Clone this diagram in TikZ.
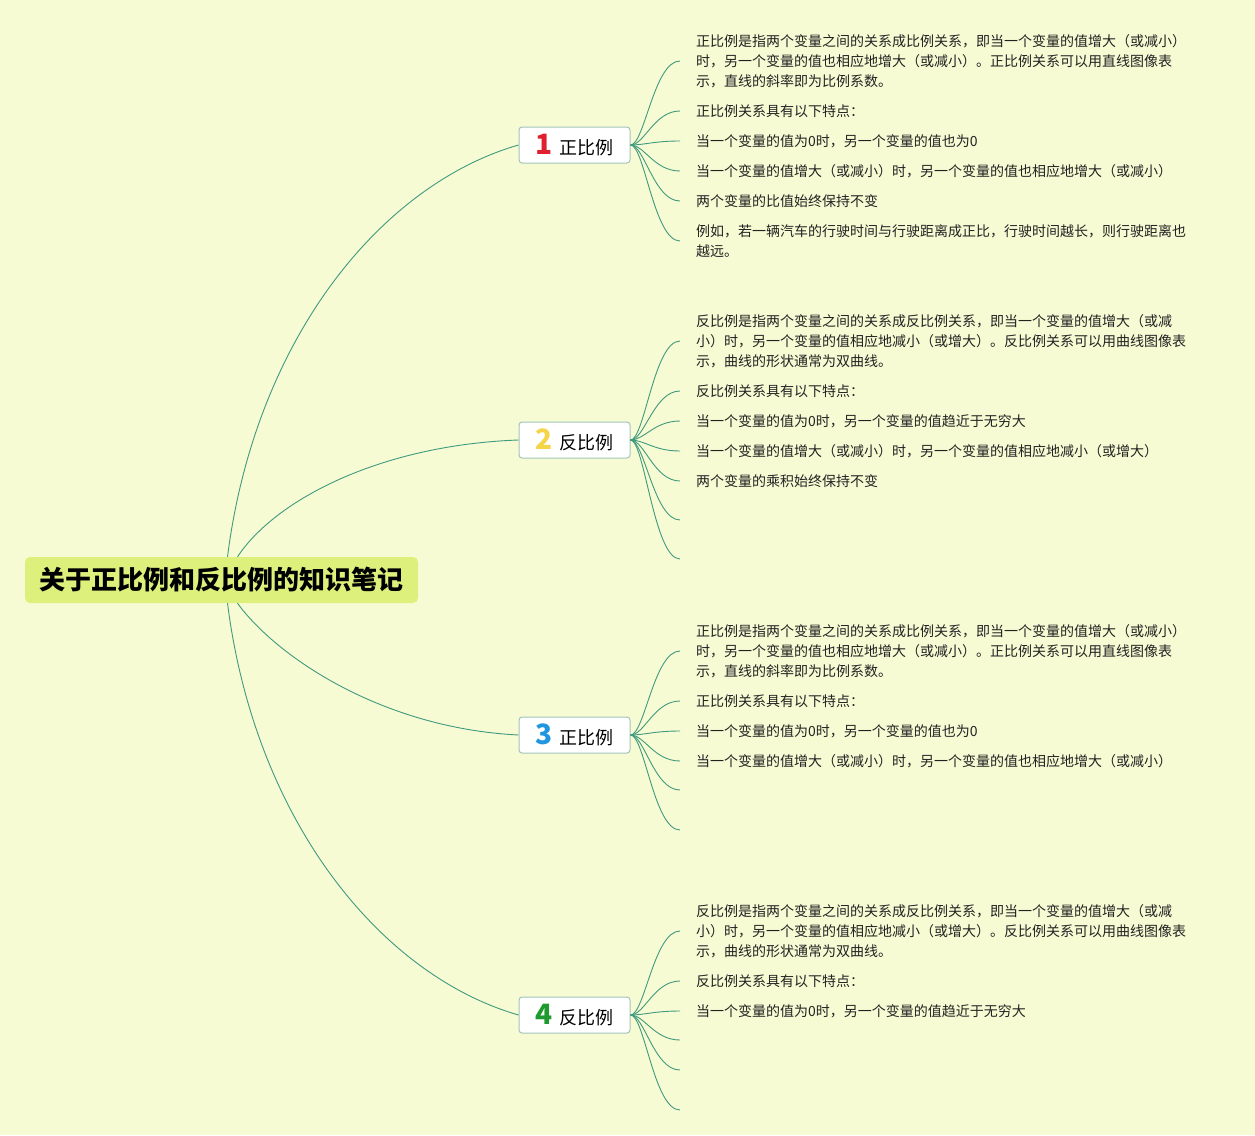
\documentclass[tikz,border=0pt]{standalone}
\usepackage{fontspec}
\setmainfont{Noto Sans CJK SC}
\definecolor{bgc}{HTML}{F7FBD3}
\definecolor{rootc}{HTML}{DDF07B}
\definecolor{boxc}{HTML}{A3C4BA}
\definecolor{linkc}{HTML}{3F9A7E}
\definecolor{leafc}{HTML}{222222}
\definecolor{numred}{HTML}{E0202E}
\definecolor{numyellow}{HTML}{F5D547}
\definecolor{numblue}{HTML}{2196E0}
\definecolor{numgreen}{HTML}{1E9A2E}
\begin{document}
\begin{tikzpicture}[x=1pt,y=-1pt,
	link/.style={draw=linkc,line width=0.9pt},
	rootbox/.style={fill=rootc,rounded corners=5pt,minimum width=393pt,minimum height=46pt,inner sep=0pt,font=\fontsize{26}{30}\selectfont\bfseries},
	topic/.style={draw=boxc,line width=1pt,fill=white,rounded corners=3pt,minimum width=111pt,minimum height=36pt,inner sep=0pt,font=\fontsize{18}{22}\selectfont},
	leaf/.style={anchor=west,inner xsep=16pt,inner ysep=0pt,align=left,font=\fontsize{14}{20}\selectfont,text=leafc}]
					\fill[bgc] (0,0) rectangle (1255,1135);
					\useasboundingbox (0,0) rectangle (1255,1135);
					\node[rootbox] (root) at (221.5,580) {关于正比例和反比例的知识笔记};
					\node[topic] (b1) at (574.5,145) {\textcolor{numred}{\fontsize{28}{28}\selectfont\bfseries 1}\hspace{6pt}正比例};
					\node[topic] (b2) at (574.5,440) {\textcolor{numyellow}{\fontsize{28}{28}\selectfont\bfseries 2}\hspace{6pt}反比例};
					\node[topic] (b3) at (574.5,735) {\textcolor{numblue}{\fontsize{28}{28}\selectfont\bfseries 3}\hspace{6pt}正比例};
					\node[topic] (b4) at (574.5,1015) {\textcolor{numgreen}{\fontsize{28}{28}\selectfont\bfseries 4}\hspace{6pt}反比例};
					\draw[link] ([xshift=6pt]root.north) .. controls (255,340) and (380,185) .. (b1.west);
					\draw[link] ([xshift=16pt]root.north) .. controls (275,500) and (380,445) .. (b2.west);
					\draw[link] ([xshift=16pt]root.south) .. controls (275,655) and (380,728) .. (b3.west);
					\draw[link] ([xshift=6pt]root.south) .. controls (255,820) and (380,975) .. (b4.west);
					\node[leaf] (b1l1) at (680,61) {正比例是指两个变量之间的关系成比例关系，即当一个变量的值增大（或减小）\\时，另一个变量的值也相应地增大（或减小）。正比例关系可以用直线图像表\\示，直线的斜率即为比例系数。};
					\node[leaf] (b1l2) at (680,111) {正比例关系具有以下特点：};
					\node[leaf] (b1l3) at (680,141) {当一个变量的值为0时，另一个变量的值也为0};
					\node[leaf] (b1l4) at (680,171) {当一个变量的值增大（或减小）时，另一个变量的值也相应地增大（或减小）};
					\node[leaf] (b1l5) at (680,201) {两个变量的比值始终保持不变};
					\node[leaf] (b1l6) at (680,241) {例如，若一辆汽车的行驶时间与行驶距离成正比，行驶时间越长，则行驶距离也\\越远。};
					\node[leaf] (b2l1) at (680,341) {反比例是指两个变量之间的关系成反比例关系，即当一个变量的值增大（或减\\小）时，另一个变量的值相应地减小（或增大）。反比例关系可以用曲线图像表\\示，曲线的形状通常为双曲线。};
					\node[leaf] (b2l2) at (680,391) {反比例关系具有以下特点：};
					\node[leaf] (b2l3) at (680,421) {当一个变量的值为0时，另一个变量的值趋近于无穷大};
					\node[leaf] (b2l4) at (680,451) {当一个变量的值增大（或减小）时，另一个变量的值相应地减小（或增大）};
					\node[leaf] (b2l5) at (680,481) {两个变量的乘积始终保持不变};
					\coordinate (b2l6) at (680,520);
					\coordinate (b2l7) at (680,559);
					\node[leaf] (b3l1) at (680,651) {正比例是指两个变量之间的关系成比例关系，即当一个变量的值增大（或减小）\\时，另一个变量的值也相应地增大（或减小）。正比例关系可以用直线图像表\\示，直线的斜率即为比例系数。};
					\node[leaf] (b3l2) at (680,701) {正比例关系具有以下特点：};
					\node[leaf] (b3l3) at (680,731) {当一个变量的值为0时，另一个变量的值也为0};
					\node[leaf] (b3l4) at (680,761) {当一个变量的值增大（或减小）时，另一个变量的值也相应地增大（或减小）};
					\coordinate (b3l5) at (680,790);
					\coordinate (b3l6) at (680,830);
					\node[leaf] (b4l1) at (680,931) {反比例是指两个变量之间的关系成反比例关系，即当一个变量的值增大（或减\\小）时，另一个变量的值相应地减小（或增大）。反比例关系可以用曲线图像表\\示，曲线的形状通常为双曲线。};
					\node[leaf] (b4l2) at (680,981) {反比例关系具有以下特点：};
					\node[leaf] (b4l3) at (680,1011) {当一个变量的值为0时，另一个变量的值趋近于无穷大};
					\coordinate (b4l4) at (680,1040);
					\coordinate (b4l5) at (680,1070);
					\coordinate (b4l6) at (680,1110);
					\draw[link] (b1.east) .. controls +(14,0) and +(-26,0) .. (b1l1.west);
					\draw[link] (b1.east) .. controls +(14,0) and +(-26,0) .. (b1l2.west);
					\draw[link] (b1.east) .. controls +(14,0) and +(-26,0) .. (b1l3.west);
					\draw[link] (b1.east) .. controls +(14,0) and +(-26,0) .. (b1l4.west);
					\draw[link] (b1.east) .. controls +(14,0) and +(-26,0) .. (b1l5.west);
					\draw[link] (b1.east) .. controls +(14,0) and +(-26,0) .. (b1l6.west);
					\draw[link] (b2.east) .. controls +(14,0) and +(-26,0) .. (b2l1.west);
					\draw[link] (b2.east) .. controls +(14,0) and +(-26,0) .. (b2l2.west);
					\draw[link] (b2.east) .. controls +(14,0) and +(-26,0) .. (b2l3.west);
					\draw[link] (b2.east) .. controls +(14,0) and +(-26,0) .. (b2l4.west);
					\draw[link] (b2.east) .. controls +(14,0) and +(-26,0) .. (b2l5.west);
					\draw[link] (b2.east) .. controls +(14,0) and +(-26,0) .. (b2l6);
					\draw[link] (b2.east) .. controls +(14,0) and +(-26,0) .. (b2l7);
					\draw[link] (b3.east) .. controls +(14,0) and +(-26,0) .. (b3l1.west);
					\draw[link] (b3.east) .. controls +(14,0) and +(-26,0) .. (b3l2.west);
					\draw[link] (b3.east) .. controls +(14,0) and +(-26,0) .. (b3l3.west);
					\draw[link] (b3.east) .. controls +(14,0) and +(-26,0) .. (b3l4.west);
					\draw[link] (b3.east) .. controls +(14,0) and +(-26,0) .. (b3l5);
					\draw[link] (b3.east) .. controls +(14,0) and +(-26,0) .. (b3l6);
					\draw[link] (b4.east) .. controls +(14,0) and +(-26,0) .. (b4l1.west);
					\draw[link] (b4.east) .. controls +(14,0) and +(-26,0) .. (b4l2.west);
					\draw[link] (b4.east) .. controls +(14,0) and +(-26,0) .. (b4l3.west);
					\draw[link] (b4.east) .. controls +(14,0) and +(-26,0) .. (b4l4);
					\draw[link] (b4.east) .. controls +(14,0) and +(-26,0) .. (b4l5);
					\draw[link] (b4.east) .. controls +(14,0) and +(-26,0) .. (b4l6);
				\end{tikzpicture}
\end{document}
